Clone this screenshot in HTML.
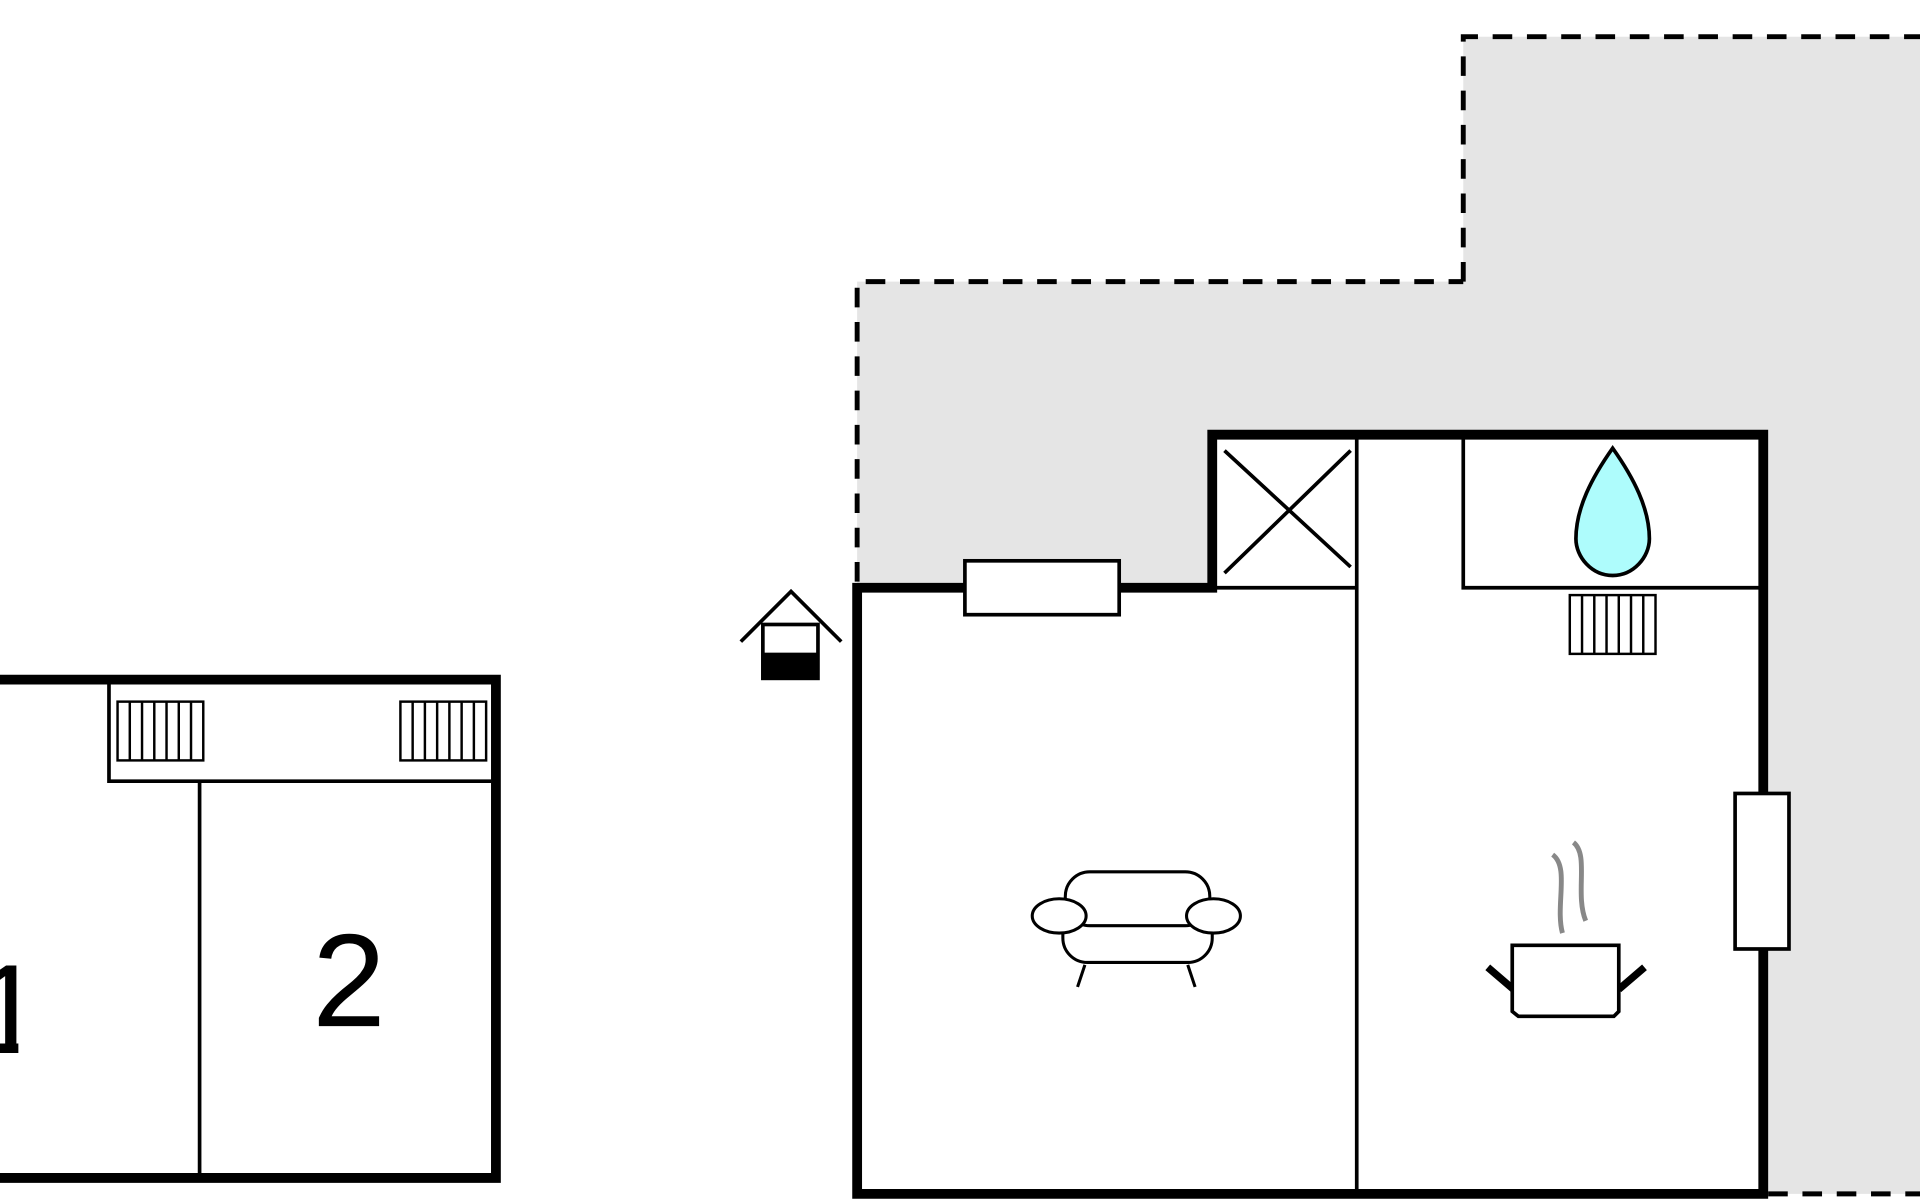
<!DOCTYPE html>
<html><head><meta charset="utf-8"><style>
html,body{margin:0;padding:0;background:#fff;width:1920px;height:1200px;overflow:hidden}
svg{display:block}
</style></head><body>
<svg width="1920" height="1200" viewBox="0 0 1568 980" xmlns="http://www.w3.org/2000/svg">
<defs>
<g id="rad">
<rect x="0" y="0" width="70" height="48" fill="#fff" stroke="#000" stroke-width="2"/>
<path d="M10 0V48M20 0V48M30 0V48M40 0V48M50 0V48M60 0V48" stroke="#000" stroke-width="2"/>
</g>
</defs>
<polygon points="700,230 1195,230 1195,30 1568,30 1568,975 1440,975 1440,355 988,355 988,480 700,480" fill="#e5e5e5"/>
<g stroke="#000" stroke-width="4" stroke-dasharray="16,12" fill="none">
<path d="M1195 230V30H1568"/>
<path d="M700 475V230H1195"/>
<path d="M1444 975H1568"/>
</g>
<rect x="700" y="480" width="740" height="495" fill="#fff"/>
<rect x="990" y="355" width="450" height="125" fill="#fff"/>
<g stroke="#000" stroke-width="3" fill="none">
<path d="M1108 355V975"/>
<path d="M1195 355V480H1440"/>
<path d="M990 480H1108"/>
<path d="M1000 368L1103 463M1103 368L1000 468"/>
</g>
<path d="M700 480H990V355H1440V975H700Z" fill="none" stroke="#000" stroke-width="8"/>
<rect x="788" y="458" width="126" height="44" fill="#fff" stroke="#000" stroke-width="3"/>
<rect x="1417" y="648" width="44" height="127" fill="#fff" stroke="#000" stroke-width="3"/>
<path d="M1317 366C1300 390 1287 415 1287 440C1287 455 1300 470 1317 470C1334 470 1347 455 1347 440C1347 415 1334 390 1317 366Z" fill="#aefcfc" stroke="#000" stroke-width="3"/>
<use href="#rad" x="1282" y="486"/>
<g stroke="#000" stroke-width="2.5" fill="#fff">
<path d="M886 788L880 806M970 788L976 806" fill="none"/>
<rect x="868" y="740" width="122" height="46" rx="20"/>
<rect x="870" y="712" width="118" height="44" rx="20"/>
<ellipse cx="865" cy="748" rx="22" ry="14"/>
<ellipse cx="991" cy="748" rx="22" ry="14"/>
</g>
<g stroke="#000" stroke-width="3" fill="#fff">
<path d="M1236 808L1215 790M1322 808L1343 790" fill="none" stroke-width="6"/>
<path d="M1235 772H1322V826L1318 830H1240L1235 826Z"/>
</g>
<path d="M1268 698C1282 708 1270 740 1276 762M1285 688C1298 698 1286 730 1295 752" stroke="#888" stroke-width="4" fill="none"/>
<g stroke="#000" stroke-width="3" fill="none">
<path d="M605 524L646 483L687 524"/>
<rect x="623" y="510" width="45" height="44" fill="#fff"/>
</g>
<rect x="623" y="533" width="45" height="22" fill="#000"/>
<rect x="0" y="552" width="407" height="411" fill="#fff"/>
<text x="285" y="838" font-family="Liberation Sans, sans-serif" font-size="108" text-anchor="middle">2</text>
<text x="-22" y="860" font-family="Liberation Sans, sans-serif" font-size="104">1</text>
<rect x="15" y="840" width="40" height="25" fill="#fff"/>
<g stroke="#000" stroke-width="3" fill="none">
<path d="M89 552V638H401"/>
<path d="M163 638V963"/>
</g>
<path d="M0 555H405V962H0" fill="none" stroke="#000" stroke-width="8"/>
<use href="#rad" x="96" y="573"/>
<use href="#rad" x="327" y="573"/>
</svg>
</body></html>
